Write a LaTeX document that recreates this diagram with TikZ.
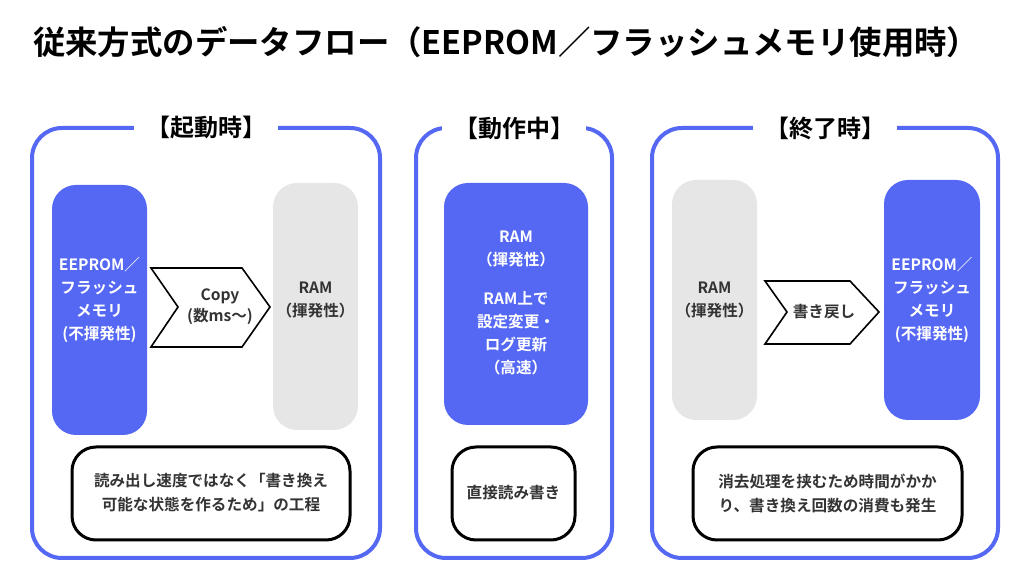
\documentclass[tikz,border=0pt]{standalone}
\usepackage{fontspec}
\setmainfont{Noto Sans CJK JP}[BoldFont={Noto Sans CJK JP Bold}]
\definecolor{cblue}{HTML}{5568F4}
\definecolor{cgray}{HTML}{E6E6E6}
\definecolor{ctext}{HTML}{333333}
\tikzset{
  panel/.style={draw=cblue, line width=2pt, rounded corners=15pt},
  ptitle/.style={fill=white, inner xsep=6pt, font=\bfseries\fontsize{12}{14}\selectfont, text=black},
  blk/.style={rounded corners=12pt, font=\bfseries\fontsize{7.8}{11.5}\selectfont, align=center},
  mem/.style={blk, fill=cblue, text=white},
  ram/.style={blk, fill=cgray, text=ctext},
  note/.style={draw=black, line width=1.5pt, rounded corners=12pt, font=\bfseries\fontsize{7.8}{12}\selectfont, text=ctext, align=center},
  chev/.style={draw=black, line width=0.8pt, fill=white, font=\bfseries\fontsize{7.8}{10.5}\selectfont, text=ctext, align=center}
}
\begin{document}
\begin{tikzpicture}[x=0.5pt,y=-0.5pt]
\useasboundingbox (0,0) rectangle (1024,576);
\node[anchor=west, font=\bfseries\fontsize{16.2}{18}\selectfont] (title) at (26,42) {従来方式のデータフロー（EEPROM／フラッシュメモリ使用時）};

% startup
\draw[panel] (32,128) rectangle (380,558);
\node[ptitle] (t1) at (206,128) {【起動時】};
\path[mem] (52,185) rectangle (147,435);
\node[blk, text=white] (rom1) at (99.5,300) {EEPROM／\\フラッシュ\\メモリ\\(不揮発性)};
\path[ram] (273,183) rectangle (358,430);
\node[blk, text=ctext] (ram1) at (315.5,300) {RAM\\（揮発性）};
\draw[chev] (151,268) -- (242,268) -- (270,307) -- (242,347) -- (151,347) -- (178,307) -- cycle;
\node[chev, draw=none, fill=none] (cp1) at (220,307) {Copy\\(数ms〜)};
\draw[note] (72,447) rectangle (350,540);
\node[note, draw=none] (n1) at (211,493) {読み出し速度ではなく「書き換え\\可能な状態を作るため」の工程};

% running
\draw[panel] (416,128) rectangle (612,558);
\node[ptitle] (t2) at (514,128) {【動作中】};
\path[mem] (444,183) rectangle (588,425);
\node[blk, text=white] (ram2) at (516,303) {RAM\\（揮発性）\\[8pt]RAM上で\\設定変更・\\ログ更新\\（高速）};
\draw[note] (452,447) rectangle (575,540);
\node[note, draw=none] (n2) at (513.5,493) {直接読み書き};

% shutdown
\draw[panel] (652,128) rectangle (998,558);
\node[ptitle] (t3) at (825,128) {【終了時】};
\path[ram] (672,180) rectangle (757,420);
\node[blk, text=ctext] (ram3) at (714.5,300) {RAM\\（揮発性）};
\draw[chev] (765,281) -- (850,281) -- (879,312) -- (850,344) -- (765,344) -- (787,312) -- cycle;
\node[chev, draw=none, fill=none] (wb) at (824,312) {書き戻し};
\path[mem] (884,180) rectangle (980,420);
\node[blk, text=white] (rom3) at (932,300) {EEPROM／\\フラッシュ\\メモリ\\(不揮発性)};
\draw[note] (693,447) rectangle (962,540);
\node[note, draw=none] (n3) at (827.5,493) {消去処理を挟むため時間がかか\\り、書き換え回数の消費も発生};
\end{tikzpicture}
\end{document}
